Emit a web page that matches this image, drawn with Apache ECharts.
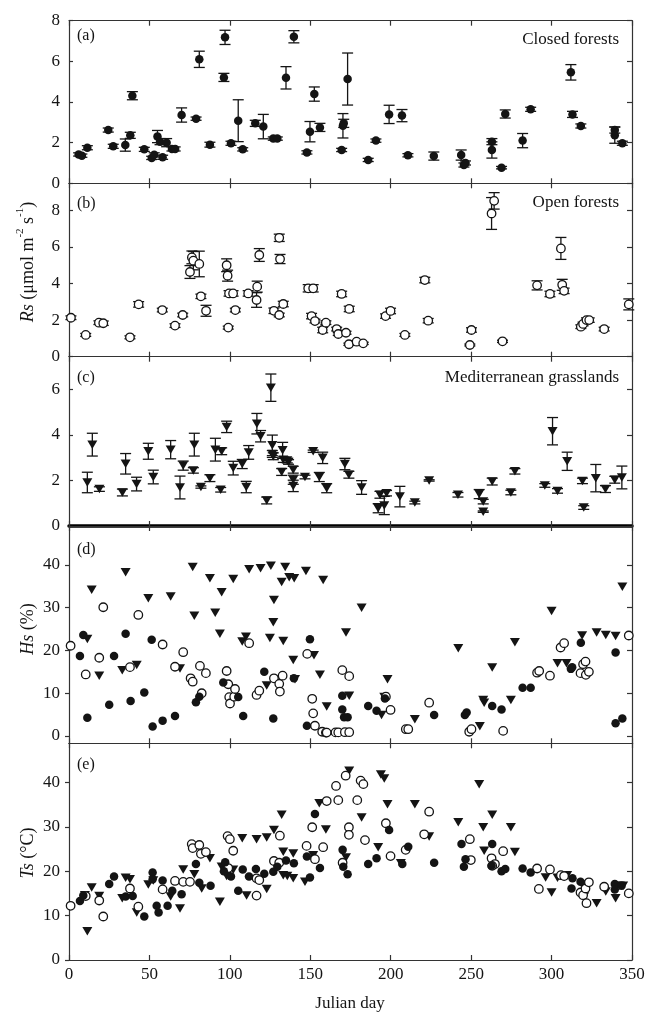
<!DOCTYPE html>
<html><head><meta charset="utf-8">
<script src="https://cdn.jsdelivr.net/npm/echarts@6/dist/echarts.min.js"></script>
<style>html,body{margin:0;padding:0;background:#fff}#c{width:649px;height:1025px}</style>
</head><body><div id="c"></div><script>
// ---------- data ----------
const xTicks = [0, 50, 100, 150, 200, 250, 300, 350];
const rsTicksA = [0, 2, 4, 6, 8];
const rsTicksB = [0, 2, 4, 6, 8];
const rsTicksC = [0, 2, 4, 6];
const hsTicks = [0, 10, 20, 30, 40];
const tsTicks = [0, 10, 20, 30, 40];
const panelTitles = ['Closed forests', 'Open forests', 'Mediterranean grasslands'];
const panelLetters = ['(a)', '(b)', '(c)', '(d)', '(e)'];

// [Julian day, Rs, error]
const closedRs = [[6,1.42,0.08],[8,1.36,0.08],[11.4,1.75,0.1],[24.4,2.62,0.1],[27.5,1.82,0.1],[35,1.88,0.3],[38.1,2.36,0.15],[39.4,4.31,0.2],[46.8,1.67,0.1],[51.4,1.25,0.08],[53,1.4,0.1],[55,2.3,0.3],[56.6,2.05,0.15],[58.2,1.28,0.1],[60.7,2.0,0.2],[64,1.69,0.1],[66,1.69,0.1],[70,3.36,0.35],[79,3.18,0.08],[81,6.1,0.4],[87.6,1.9,0.12],[96.3,5.21,0.2],[97,7.18,0.35],[100.7,1.97,0.1],[105.2,3.08,1.03],[108,1.67,0.08],[115.8,2.95,0.15],[120.8,2.79,0.6],[127,2.2,0.08],[129.5,2.2,0.08],[134.9,5.19,0.55],[139.8,7.21,0.3],[147.9,1.52,0.08],[149.8,2.54,0.5],[152.5,4.39,0.35],[156,2.75,0.2],[169.5,1.64,0.08],[170.3,2.83,0.6],[170.8,2.95,0.2],[173.2,5.13,1.28],[186,1.15,0.08],[190.8,2.1,0.08],[199,3.39,0.45],[207,3.33,0.3],[210.7,1.38,0.08],[226.8,1.34,0.2],[243.8,1.39,0.25],[245.5,0.9,0.1],[246.5,1.0,0.1],[262.9,2.05,0.15],[262.9,1.64,0.4],[268.9,0.77,0.06],[271.2,3.41,0.2],[282,2.1,0.35],[287,3.64,0.1],[312,5.46,0.38],[313,3.39,0.15],[318.2,2.82,0.1],[339.3,2.62,0.15],[339.3,2.37,0.4],[344,1.97,0.1]];
const openRs = [[1.2,2.13,0.1],[10.4,1.19,0.08],[18.6,1.86,0.1],[21.3,1.83,0.12],[37.9,1.06,0.08],[43.3,2.86,0.15],[58,2.55,0.1],[65.9,1.7,0.1],[70.7,2.28,0.1],[75.2,4.63,0.35],[76.4,5.43,0.35],[77.3,5.25,0.5],[81,5.07,0.7],[82,3.3,0.12],[85.2,2.51,0.3],[98,5.0,0.35],[98.6,4.43,0.3],[99,1.59,0.08],[99.5,3.46,0.15],[102,3.46,0.15],[103.4,2.55,0.1],[111.4,3.46,0.15],[116.6,3.1,0.4],[117,3.83,0.3],[118.3,5.56,0.35],[127.4,2.51,0.15],[130.7,6.5,0.2],[131.2,5.34,0.25],[130.7,2.28,0.1],[133.2,2.88,0.15],[148.7,3.74,0.2],[151.8,3.74,0.2],[150.8,2.22,0.15],[152.9,1.95,0.1],[157.7,1.46,0.15],[159.7,1.86,0.1],[166.4,1.51,0.1],[167.4,1.24,0.08],[169.5,3.43,0.15],[172.2,1.31,0.08],[174.2,2.61,0.15],[174,0.68,0.06],[178.8,0.82,0.06],[182.9,0.73,0.06],[196.8,2.22,0.12],[199.9,2.5,0.15],[208.8,1.19,0.08],[221.2,4.19,0.15],[223.3,1.97,0.12],[249.2,0.64,0.05],[250.2,1.46,0.12],[262.7,7.83,0.87],[264.3,8.52,0.45],[269.5,0.84,0.06],[291,3.9,0.25],[299,3.43,0.15],[305.8,5.92,0.6],[306.6,3.93,0.3],[307.8,3.6,0.15],[318.2,1.64,0.1],[319.6,1.79,0.1],[321.7,2.0,0.12],[323.4,2.0,0.12],[332.7,1.51,0.1],[348,2.86,0.3]];
const grassRs = [[11.4,1.91,0.45],[14.5,3.57,0.5],[18.9,1.62,0.1],[33.2,1.47,0.15],[35.2,2.73,0.45],[42,1.84,0.3],[49.3,3.28,0.35],[52.4,2.15,0.3],[63.2,3.35,0.4],[69,1.69,0.5],[71,2.65,0.2],[77.3,2.44,0.12],[77.9,3.57,0.5],[82,1.71,0.05],[87.6,2.1,0.15],[91,3.35,0.5],[94.9,3.28,0.15],[94.3,1.59,0.1],[98,4.35,0.25],[102.1,2.54,0.3],[107.7,2.72,0.2],[110.2,1.71,0.25],[111.7,3.23,0.3],[116.8,4.49,0.45],[119.1,3.94,0.25],[122.9,1.12,0.15],[125.5,6.07,0.6],[126.4,3.54,0.45],[126.4,3.16,0.15],[127,3.06,0.15],[132.2,2.37,0.15],[132.8,3.32,0.35],[133.2,2.91,0.12],[135.7,2.87,0.1],[136.5,2.81,0.1],[139.4,2.47,0.15],[139.4,2.03,0.2],[139.4,1.76,0.25],[146.7,2.15,0.08],[151.8,3.28,0.05],[155.6,2.15,0.2],[157.7,2.99,0.25],[160.2,1.66,0.2],[171.5,2.72,0.25],[174,2.25,0.15],[181.9,1.69,0.3],[192.2,0.78,0.2],[193.3,1.37,0.15],[196,0.9,0.4],[197.4,1.44,0.12],[205.7,1.29,0.45],[215,1.03,0.06],[223.9,2.0,0.03],[241.8,1.37,0.1],[255,1.4,0.2],[257.5,1.07,0.1],[257.5,0.63,0.03],[263.1,1.95,0.15],[274.7,1.47,0.1],[277.2,2.4,0.12],[295.8,1.78,0.08],[300.6,4.16,0.6],[303.7,1.54,0.1],[309.7,2.84,0.4],[319.2,1.98,0.12],[320,0.81,0.08],[327.5,2.1,0.6],[333.5,1.62,0.15],[339.3,2.03,0.15],[343.7,2.13,0.5]];

// [Julian day, Hs %]
const closedHs = [[6.8,18.7],[8.9,23.6],[11.4,4.3],[25,7.3],[28,18.7],[35.2,23.9],[38.3,8.2],[46.8,10.2],[51.4,22.5],[52,2.2],[58.2,3.6],[65.9,4.7],[78.9,7.9],[81,9.2],[95.9,12.5],[105.2,9.1],[108.3,4.7],[121.4,15.0],[127,4.1],[139.8,13.5],[147.9,2.4],[149.8,22.6],[169.9,9.4],[169.9,6.2],[171,4.4],[173.2,4.4],[186,7.0],[191.2,5.9],[196.4,8.8],[227,4.9],[246.1,4.9],[247.2,5.5],[263.1,7.0],[268.9,6.2],[282,11.3],[287,11.3],[312,15.7],[312.8,16.1],[318.2,21.8],[339.8,19.5],[339.8,3.0],[344,4.1]];
const openHs = [[1,21.1],[10.4,14.4],[18.8,18.3],[21.3,30.1],[37.9,16.1],[43.1,28.3],[58.2,21.4],[65.9,16.2],[71,19.6],[75.6,13.5],[76.9,12.7],[81.4,16.4],[82.5,10],[85.1,14.7],[98,15.2],[99,12.1],[99.6,9.1],[100.1,7.6],[102.7,9.2],[103.2,11],[112,21.7],[116.6,9.6],[118.3,10.6],[127.4,13.5],[130.7,12.2],[131.1,10.4],[132.8,14.1],[148.1,19.2],[151.2,8.7],[151.8,5.3],[152.9,2.4],[157.4,1.0],[159.7,0.8],[160.2,0.8],[165.7,0.85],[167.4,0.85],[169.9,15.4],[171.5,0.9],[174.2,0.9],[174.2,14.0],[197,9.2],[199.9,6.1],[209.4,1.6],[210.9,1.6],[223.9,7.8],[248.8,1.0],[250.2,1.6],[269.9,1.2],[291,14.8],[292.3,15.2],[299,14.1],[305.6,20.7],[307.8,21.7],[318,14.7],[319.6,16.8],[321.1,17.4],[321.3,14.3],[323.2,15.0],[348,23.5]];
const grassHs = [[11.4,22.7],[14.1,34.2],[18.8,14.1],[33.1,15.4],[35.2,38.3],[42.1,16.6],[49.3,32.2],[63.2,32.6],[69,15.8],[76.9,39.5],[77.9,28.1],[87.6,36.9],[90.9,28.8],[93.8,23.9],[94.9,33.6],[102.1,36.7],[107.7,22.1],[110,23.2],[112,39.0],[119.1,39.2],[122.9,11.8],[124.9,22.9],[125.5,39.8],[127,26.6],[127.4,31.8],[132.2,36],[133.2,22.2],[134.4,39.5],[136.9,37.1],[139.4,17.8],[140,36.9],[140.5,13.3],[147.3,38.6],[152.3,18.9],[156,14.3],[158,36.5],[160.2,6.9],[172.2,24.2],[174.2,9.4],[181.9,30.0],[194.3,4.9],[196,9.1],[198,13.3],[215,3.9],[242,20.5],[255.4,2.3],[257.5,8.4],[258.1,7.8],[263.1,16],[274.7,8.4],[277.2,21.9],[300,29.2],[303.7,17],[309.3,17],[319,23.5],[328,24.2],[333.7,23.6],[339.8,23.4],[344,34.9]];

// [Julian day, Ts °C]
const closedTs = [[6.8,13.3],[8.9,14.5],[25,17.1],[28,18.8],[35.2,14.3],[39.6,14.4],[46.8,9.8],[52,19.7],[52,18.2],[54.5,12.2],[55.7,10.7],[58.2,17.9],[61.3,12.2],[64.2,15.6],[70,14.8],[78.9,21.6],[81,17.4],[88,16.7],[96.3,20],[97.1,22.0],[100.7,18.8],[105.2,15.6],[108,20.4],[111.9,18.8],[116.2,20.5],[121.4,19.4],[127,19.9],[129.5,21.0],[134.9,22.4],[139.8,21.8],[147.9,23.3],[149.8,18.6],[152.9,32.9],[156,20.7],[170.1,24.8],[170.5,21.0],[173.2,19.3],[186,21.6],[191.2,22.9],[199,29.3],[207.2,21.6],[210.9,25.5],[227,21.9],[244,26.1],[246.5,22.7],[245.5,21.0],[263.1,26.1],[262.7,21.2],[268.9,20.0],[271.2,20.5],[282,20.6],[287,19.7],[312.4,16.1],[313,18.4],[318,17.6],[339.3,17.1],[339.3,15.9],[343.5,16.7]];
const openTs = [[1,12.2],[10.4,14.4],[18.8,13.4],[21.3,9.8],[37.9,16.1],[43.1,12.0],[58.2,15.9],[65.9,17.8],[71,17.6],[75.2,17.6],[76.3,26.1],[76.9,25.2],[81,25.9],[82,23.9],[85.1,24.3],[98.6,27.9],[100,27.2],[99,20.7],[102.1,24.6],[116.6,14.5],[116.6,18.4],[118.3,18.0],[127.4,22.3],[130.7,21.9],[131.1,28.0],[147.7,25.7],[151.2,29.9],[152.9,22.7],[158,25.4],[160.2,35.8],[166,39.2],[167.4,36.0],[172,41.5],[170.1,21.9],[174,29.9],[174,28.2],[179.2,36.0],[181.3,40.4],[183,39.6],[184,27.0],[197,30.8],[199.9,23.4],[209.3,24.8],[220.8,28.3],[223.9,33.4],[249.2,27.2],[249.8,22.5],[262.7,22.9],[264.8,21.6],[263.1,21.2],[269.9,24.5],[291,20.6],[292.1,16.0],[299,20.4],[305.8,19.1],[307.8,18.9],[318,15.2],[319.6,14.6],[321.1,16.1],[321.7,12.8],[323.2,17.5],[332.7,16.5],[348,15.0]];
const grassTs = [[9.9,14.6],[11.4,6.5],[14.1,16.3],[18.8,14.4],[33.1,13.9],[35.2,18.5],[37.9,18.2],[42.1,10.7],[49.3,17.0],[52.4,17.9],[63.2,14.3],[69,11.6],[71,20.4],[77.9,19.3],[82.5,16.1],[87.6,22.9],[93.8,13.1],[94.9,21.0],[98,18.9],[102.1,20.3],[107.7,27.4],[110.4,14.5],[116.6,27.2],[122.9,27.6],[122.9,16.0],[127.4,29.3],[132.2,32.7],[133.2,24.4],[133.2,19.1],[135.7,18.9],[139.4,24.0],[139.4,18.4],[146.7,17.6],[151.8,23.6],[155.6,35.3],[159.7,29.4],[172.2,23.1],[174.2,42.6],[181.9,32.1],[192.2,25.4],[193.9,41.8],[196,40.9],[198,35.1],[206.3,21.8],[215,35.1],[223.9,27.8],[242,31.0],[255,39.6],[257.5,29.9],[258.1,24.6],[263.1,32.7],[274.7,29.9],[277.2,24.3],[296.3,18.6],[300,15.2],[303.7,18.5],[309.7,19.1],[319,17.0],[320.3,14.3],[328,12.8],[333.7,15.4],[339.8,13.9],[342.4,16.7],[344.5,16.7]];

// ---------- chart ----------
const FONT = '"Liberation Serif","Times New Roman",serif';
const INK = '#141414';
const panels = [
  {top: 20.7, h: 162.6, min: 0, max: 8, ticks: rsTicksA},
  {top: 183.3, h: 173.4, min: 0, max: 9.48, ticks: rsTicksB},
  {top: 356.7, h: 169.3, min: 0, max: 7.43, ticks: rsTicksC},
  {top: 526, h: 217.3, min: -1.7, max: 49.1, ticks: hsTicks},
  {top: 743.3, h: 216.7, min: 0, max: 48.8, ticks: tsTicks}
];
const grid = [], xAxis = [], yAxis = [];
panels.forEach((p, i) => {
  grid.push({left: 69, right: 17, top: p.top, height: p.h, outerBoundsMode: 'none', containLabel: false});
  const axLine = {show: true, onZero: false, lineStyle: {color: '#333', width: 1.2}};
  xAxis.push({gridIndex: i, type: 'value', min: 0, max: 350, position: 'bottom',
    axisLine: {show: true, onZero: false, lineStyle: {color: i === 2 ? '#000' : '#333', width: i === 2 ? 3.5 : 1.2}},
    axisTick: {show: true, inside: true, length: 5, customValues: xTicks, lineStyle: {color: '#333', width: 1.2}},
    axisLabel: {show: i === 4, customValues: xTicks, color: INK, fontFamily: FONT, fontSize: 17, margin: 6},
    splitLine: {show: false}});
  xAxis.push({gridIndex: i, type: 'value', min: 0, max: 350, position: 'top',
    axisLine: axLine,
    axisTick: {show: true, inside: true, length: 5, customValues: xTicks, lineStyle: {color: '#333', width: 1.2}},
    axisLabel: {show: false}, splitLine: {show: false}});
  yAxis.push({gridIndex: i, type: 'value', min: p.min, max: p.max, position: 'left',
    axisLine: axLine,
    axisTick: {show: true, inside: i < 3, length: 4, customValues: p.ticks, lineStyle: {color: '#333', width: 1.2}},
    axisLabel: {customValues: p.ticks, color: INK, fontFamily: FONT, fontSize: 17, margin: 9},
    splitLine: {show: false}});
  yAxis.push({gridIndex: i, type: 'value', min: p.min, max: p.max, position: 'right',
    axisLine: axLine,
    axisTick: {show: true, inside: true, length: 5, customValues: p.ticks, lineStyle: {color: '#333', width: 1.2}},
    axisLabel: {show: false}, splitLine: {show: false}});
});

function errSeries(data, i) {
  return {type: 'custom', xAxisIndex: i * 2, yAxisIndex: i * 2, data: data, z: 2, silent: true,
    encode: {x: 0, y: 1},
    renderItem: function (params, api) {
      const x = api.value(0), y = api.value(1), e = api.value(2);
      const a = api.coord([x, y + e]), b = api.coord([x, y - e]);
      const w = 5.5, st = {stroke: INK, lineWidth: 1.3};
      return {type: 'group', children: [
        {type: 'line', shape: {x1: a[0], y1: a[1], x2: b[0], y2: b[1]}, style: st},
        {type: 'line', shape: {x1: a[0] - w, y1: a[1], x2: a[0] + w, y2: a[1]}, style: st},
        {type: 'line', shape: {x1: b[0] - w, y1: b[1], x2: b[0] + w, y2: b[1]}, style: st}
      ]};
    }};
}
const filled = {symbol: 'circle', symbolSize: 8.5, itemStyle: {color: INK, opacity: 1}};
const hollow = {symbol: 'circle', symbolSize: 8.5, itemStyle: {color: '#fff', borderColor: INK, borderWidth: 1.3, opacity: 1}};
const tri = {symbol: 'triangle', symbolRotate: 180, symbolSize: [10, 8.5], itemStyle: {color: INK, opacity: 1}};
function sc(data, i, style, z) {
  return Object.assign({type: 'scatter', xAxisIndex: i * 2, yAxisIndex: i * 2, data: data, z: z || 3, silent: true}, style);
}
const series = [
  errSeries(closedRs, 0), sc(closedRs, 0, filled),
  errSeries(openRs, 1), sc(openRs, 1, hollow),
  errSeries(grassRs, 2), sc(grassRs, 2, tri),
  sc(grassHs, 3, tri, 3), sc(openHs, 3, hollow, 4), sc(closedHs, 3, filled, 5),
  sc(grassTs, 4, tri, 3), sc(openTs, 4, hollow, 4), sc(closedTs, 4, filled, 5)
];

const letterY = [36, 204, 378, 550, 765];
const titleY = [40, 203, 378];
const graphic = [];
panelLetters.forEach((t, i) => graphic.push({type: 'text', x: 77, y: letterY[i],
  style: {text: t, fill: INK, font: '16px ' + FONT, verticalAlign: 'middle', align: 'left'}}));
panelTitles.forEach((t, i) => graphic.push({type: 'text', x: 619, y: titleY[i],
  style: {text: t, fill: INK, font: '17px ' + FONT, verticalAlign: 'middle', align: 'right'}}));
const richBase = {
  i: {fontStyle: 'italic', fontSize: 18, fontFamily: FONT, fill: INK, lineHeight: 22, verticalAlign: 'bottom'},
  n: {fontSize: 18, fontFamily: FONT, fill: INK, lineHeight: 22, verticalAlign: 'bottom'},
  s: {fontSize: 11, fontFamily: FONT, fill: INK, lineHeight: 22, verticalAlign: 'top'}
};
function yLabel(text, y) {
  return {type: 'text', x: 26, y: y, rotation: Math.PI / 2,
    style: {text: text, rich: richBase, align: 'center', verticalAlign: 'middle', fill: INK}};
}
graphic.push(yLabel('{i|Rs}{n| (μmol m}{s|-2}{n| s}{s|-1}{n|)}', 262));
graphic.push(yLabel('{i|Hs}{n| (%)}', 629));
graphic.push(yLabel('{i|Ts}{n| (°C)}', 853));
graphic.push({type: 'text', x: 350, y: 1004,
  style: {text: 'Julian day', fill: INK, font: '17px ' + FONT, align: 'center', verticalAlign: 'middle'}});

const chart = echarts.init(document.getElementById('c'), null, {renderer: 'canvas'});
chart.setOption({animation: false, backgroundColor: '#fff', grid, xAxis, yAxis, series, graphic});
</script></body></html>
